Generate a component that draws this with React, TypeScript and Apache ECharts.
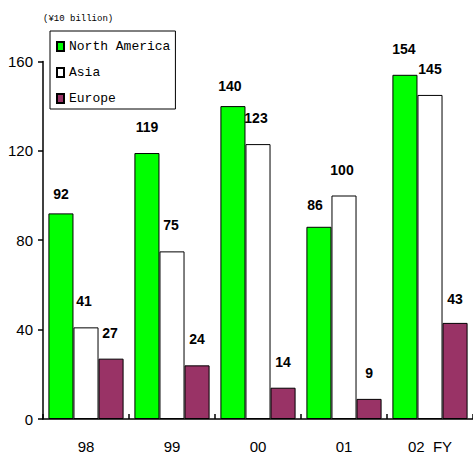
import React, { useEffect, useRef } from "react";
import * as echarts from "echarts";

const categories = ["98", "99", "00", "01", "02  FY"];
const northAmerica = [92, 119, 140, 86, 154];
const asia = [41, 75, 123, 100, 145];
const europe = [27, 24, 14, 9, 43];
const yTicks = { min: 0, max: 160, interval: 40 };

// label nudges (styling only): [dx, dy] per category
const naShift = [[0, 7], [0, 0], [-3, 6], [-4, 4], [-1, 0]];
const asiaShift = [[-2, 0], [-1, 0], [-2, 0], [-2, 0], [0, 0]];
const euShift = [[-1, 0], [0, 0], [0, 0], [0, 0], [0, 2]];

const numFont = "'Liberation Sans', Arial, sans-serif";
const monoFont = "'Liberation Mono', 'DejaVu Sans Mono', monospace";

function mk(values: number[], shifts: number[][]) {
  return values.map((v, i) => ({
    value: v,
    label: { offset: shifts[i] },
  }));
}

export default function App() {
  const ref = useRef<HTMLDivElement>(null);
  useEffect(() => {
    if (!ref.current) return;
    const chart = echarts.init(ref.current, null, { renderer: "svg" });
    const label = {
      show: true,
      position: "top",
      distance: 19,
      color: "#000",
      fontFamily: numFont,
      fontSize: 14,
      fontWeight: "bold",
    };
    const baseSeries = {
      type: "bar",
      barGap: "0%",
      barCategoryGap: "12.6%",
      label,
    };
    chart.setOption({
      animation: false,
      backgroundColor: "#fff",
      title: {
        text: "(¥10 billion)",
        left: 38,
        top: 9,
        textStyle: { fontFamily: monoFont, fontSize: 9, fontWeight: "normal", color: "#000" },
      },
      legend: {
        orient: "vertical",
        left: 50,
        top: 31,
        backgroundColor: "#fff",
        borderColor: "#000",
        borderWidth: 1,
        padding: [9, 5, 4, 6],
        itemGap: 13,
        itemWidth: 7,
        itemHeight: 9,
        icon: "rect",
        textStyle: { fontFamily: monoFont, fontSize: 13, color: "#000" },
        data: ["North America", "Asia", "Europe"],
      },
      grid: { left: 43, right: -2, top: 61.4, bottom: 38 },
      xAxis: {
        type: "category",
        data: categories,
        axisLine: { lineStyle: { color: "#000", width: 1.5 } },
        axisTick: { show: true, inside: true, length: 5, lineStyle: { color: "#000", width: 1.5 } },
        axisLabel: { fontFamily: numFont, fontSize: 15, color: "#000", margin: 20 },
      },
      yAxis: {
        type: "value",
        min: yTicks.min,
        max: yTicks.max,
        interval: yTicks.interval,
        splitLine: { show: false },
        axisLine: { show: true, lineStyle: { color: "#000", width: 1.5 } },
        axisTick: { show: true, length: 5, lineStyle: { color: "#000", width: 1.5 } },
        axisLabel: { fontFamily: numFont, fontSize: 15, color: "#000", margin: 10 },
      },
      series: [
        {
          ...baseSeries,
          name: "North America",
          data: mk(northAmerica, naShift),
          itemStyle: { color: "#00FF00", borderColor: "#000", borderWidth: 1 },
        },
        {
          ...baseSeries,
          name: "Asia",
          data: mk(asia, asiaShift),
          itemStyle: { color: "#FFFFFF", borderColor: "#000", borderWidth: 1 },
        },
        {
          ...baseSeries,
          name: "Europe",
          data: mk(europe, euShift),
          itemStyle: { color: "#993366", borderColor: "#000", borderWidth: 1 },
        },
      ],
    });
    return () => chart.dispose();
  }, []);
  return <div ref={ref} style={{ width: 473, height: 457, position: "absolute", left: 0, top: 0 }} />;
}
